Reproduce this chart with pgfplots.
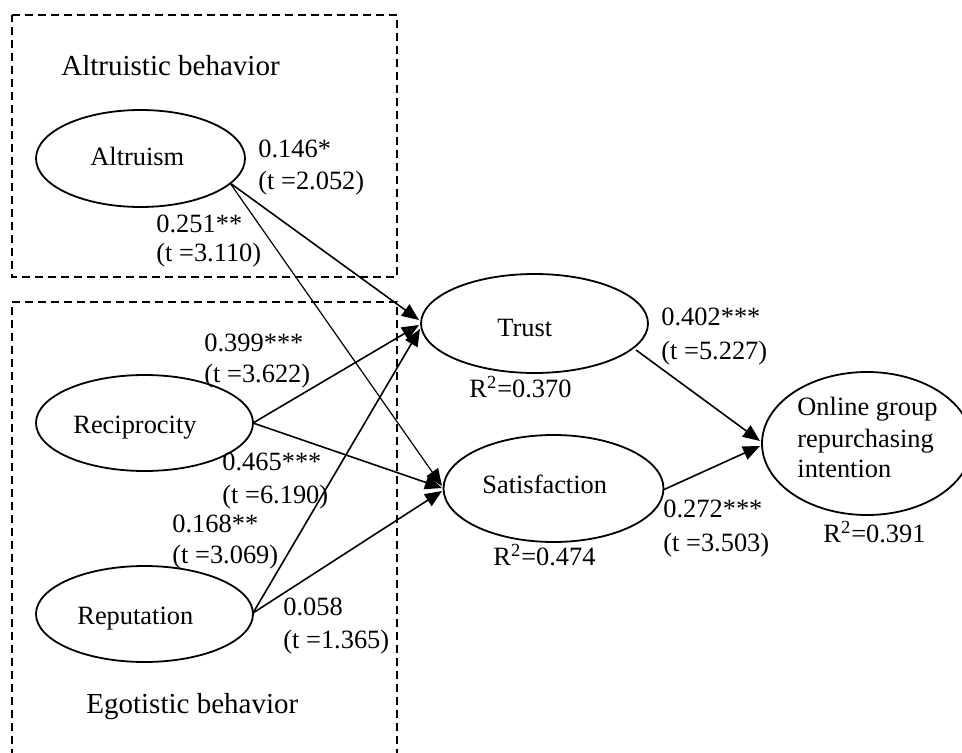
\documentclass[border=0pt]{standalone}
\usepackage{fontspec}
\setmainfont{Liberation Serif}
\usepackage{pgfplots}
\pgfplotsset{compat=1.18}
\usetikzlibrary{arrows.meta,shapes.geometric}
\newcommand\lab{\fontsize{13.2}{15}\selectfont}
\newcommand\ttl{\fontsize{14.5}{17}\selectfont}
\begin{document}
\begin{tikzpicture}
\begin{axis}[scale only axis, width=481pt, height=376.5pt,
  xmin=0, xmax=962, ymin=0, ymax=753, y dir=reverse,
  hide axis, clip=true]
\path (rel axis cs:0,0) rectangle (rel axis cs:1,1);
% dashed boxes
\addplot[black, line width=0.9pt, dash pattern=on 4pt off 2.5pt] coordinates {(12,15) (397,15) (397,277) (12,277) (12,15)};
\addplot[black, line width=0.9pt, dash pattern=on 4pt off 2.5pt] coordinates {(397,770) (397,302) (12,302) (12,770)};
% ellipses
\tikzset{ell/.style={ellipse, draw, line width=0.9pt, inner sep=0pt}}
\node[ell, minimum width=104.5pt, minimum height=48.5pt] at (axis cs:140.5,158.5) {};
\node[ell, minimum width=108.5pt, minimum height=48pt] at (axis cs:144.5,423) {};
\node[ell, minimum width=108.5pt, minimum height=48pt] at (axis cs:144.5,614) {};
\node[ell, minimum width=113.5pt, minimum height=49.5pt] at (axis cs:534.5,323.5) {};
\node[ell, minimum width=110pt, minimum height=53.5pt] at (axis cs:553.5,488.5) {};
\node[ell, minimum width=105pt, minimum height=71.5pt] at (axis cs:867,443.5) {};
% arrows
\tikzset{arr/.style={black, line width=0.8pt, -{Triangle[length=8.5pt,width=7pt]}}}
\addplot[arr] coordinates {(230,183) (419,320)};
\addplot[arr, line width=0.6pt] coordinates {(230,183) (442,486)};
\addplot[arr] coordinates {(253,423) (419,325)};
\addplot[arr] coordinates {(253,423) (442,488)};
\addplot[arr] coordinates {(253,613) (420,329)};
\addplot[arr] coordinates {(253,613) (442,491)};
\addplot[arr] coordinates {(636,350) (760,441)};
\addplot[arr] coordinates {(663,490) (760,446)};
% texts
\tikzset{t/.style={anchor=base west, inner sep=0pt, font=\lab}}
\node[t, font=\ttl] at (axis cs:61,76) {Altruistic behavior};
\node[t, font=\ttl] at (axis cs:86,713) {Egotistic behavior};
\node[t] at (axis cs:90,166) {Altruism};
\node[t] at (axis cs:73,433) {Reciprocity};
\node[t] at (axis cs:77,624) {Reputation};
\node[t] at (axis cs:497,336) {Trust};
\node[t] at (axis cs:482,493) {Satisfaction};
\node[t] at (axis cs:797,415) {Online group};
\node[t] at (axis cs:797,447) {repurchasing};
\node[t] at (axis cs:797,477) {intention};
\node[t] at (axis cs:258,158) {0.146*};
\node[t] at (axis cs:258,190) {(t =2.052)};
\node[t] at (axis cs:156,233) {0.251**};
\node[t] at (axis cs:156,262) {(t =3.110)};
\node[t] at (axis cs:204,351) {0.399***};
\node[t] at (axis cs:204,382) {(t =3.622)};
\node[t] at (axis cs:222,470) {0.465***};
\node[t] at (axis cs:222,503) {(t =6.190)};
\node[t] at (axis cs:172,532) {0.168**};
\node[t] at (axis cs:172,563) {(t =3.069)};
\node[t] at (axis cs:283,615) {0.058};
\node[t] at (axis cs:283,648) {(t =1.365)};
\node[t] at (axis cs:661,326) {0.402***};
\node[t] at (axis cs:661,359) {(t =5.227)};
\node[t] at (axis cs:663,517) {0.272***};
\node[t] at (axis cs:663,551) {(t =3.503)};
\node[t] at (axis cs:469,397) {R\textsuperscript{2}=0.370};
\node[t] at (axis cs:493,565) {R\textsuperscript{2}=0.474};
\node[t] at (axis cs:823,542) {R\textsuperscript{2}=0.391};
\end{axis}
\end{tikzpicture}
\end{document}
